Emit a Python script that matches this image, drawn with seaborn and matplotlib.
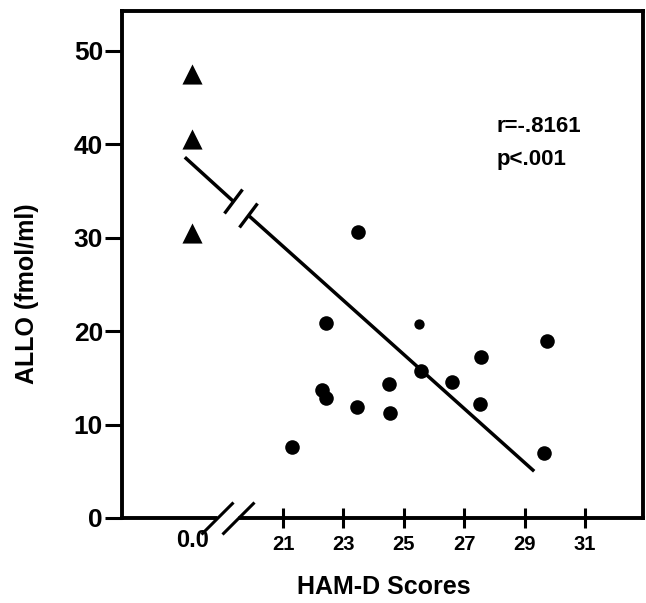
import matplotlib
matplotlib.use("Agg")
import matplotlib.pyplot as plt
from matplotlib.markers import MarkerStyle
from matplotlib.transforms import Affine2D, blended_transform_factory
import seaborn as sns

# HAM-D 0.0 (controls) is drawn at this spot left of the axis break
ZERO_POS = 18.0

ctrl_score = [0.0, 0.0, 0.0]
ctrl_allo = [47.5, 40.5, 30.5]

pat_score = [22.42, 29.75, 27.56, 25.56, 26.6, 24.5, 22.29, 22.42,
             23.44, 24.55, 27.53, 21.29, 29.65, 23.47]
pat_allo = [20.85, 18.95, 17.2, 15.7, 14.6, 14.3, 13.7, 12.8,
            11.9, 11.2, 12.2, 7.6, 7.0, 30.6]
small_score = [25.5]
small_allo = [20.8]

# regression line, with the gap where it crosses the axis break
fit_x = [17.75, 19.35, 19.85, 29.32]
fit_y = [38.6, 33.9, 32.4, 5.0]

axis_break = [18.81, 19.51]
xticks = [21, 23, 25, 27, 29, 31]
yticks = [0, 10, 20, 30, 40, 50]

sns.set_theme(style="ticks")
plt.rcParams["font.family"] = ["Liberation Sans", "DejaVu Sans"]
plt.rcParams["font.weight"] = "bold"

fig = plt.figure(figsize=(6.46, 6.03), dpi=100)
ax = fig.add_axes([0.1889, 0.141, 0.8072, 0.840])

ctrl_pos = [ZERO_POS + s for s in ctrl_score]
sns.scatterplot(x=ctrl_pos, y=ctrl_allo, marker="^", s=210, color="black",
                linewidth=0, ax=ax, zorder=5)
sns.scatterplot(x=pat_score, y=pat_allo, marker="o", s=110, color="black",
                linewidth=0, ax=ax, zorder=5)
sns.scatterplot(x=small_score, y=small_allo, marker="o", s=55, color="black",
                linewidth=0, ax=ax, zorder=5)

ax.plot(fit_x[:2], fit_y[:2], color="black", lw=2.5, solid_capstyle="butt")
ax.plot(fit_x[2:], fit_y[2:], color="black", lw=2.5, solid_capstyle="butt")
ax.plot(fit_x[1:3], fit_y[1:3], ls="none", color="black", ms=22, mew=2.4,
        marker=MarkerStyle("|", transform=Affine2D().rotate_deg(-36)))

ax.set_xlim(15.67, 32.94)
ax.set_ylim(0, 54.2)
ax.set_xticks(xticks)
ax.set_xticklabels([str(t) for t in xticks])
ax.set_yticks(yticks)
ax.set_yticklabels([str(t) for t in yticks])

for sp in ax.spines.values():
    sp.set_visible(True)
    sp.set_color("black")
    sp.set_linewidth(2.8)

ax.tick_params(axis="y", direction="out", length=12, width=2.2, pad=1.7,
               labelsize=19, color="black", labelcolor="black", left=True)
# x tick marks cross the axis; drawn below as markers, so length 0 here
ax.tick_params(axis="x", direction="out", length=0, pad=12.2,
               labelsize=14.5, labelcolor="black", bottom=True)
for lab in ax.get_xticklabels() + ax.get_yticklabels():
    lab.set_fontweight("bold")

ax.plot(xticks, [0] * len(xticks), ls="none", marker="|", ms=15, mew=2.2,
        color="black", clip_on=False, zorder=4)

# broken x axis: cut the spine and draw the two slashes
ax.plot(axis_break, [0, 0], color="white", lw=5, zorder=3, clip_on=False,
        solid_capstyle="butt")
ax.plot(axis_break, [0, 0], ls="none", color="black", ms=33, mew=2.2,
        clip_on=False, zorder=4,
        marker=MarkerStyle("|", transform=Affine2D().rotate_deg(-45)))

trans = blended_transform_factory(ax.transData, ax.transAxes)
ax.text(ZERO_POS, -0.0217, "0.0", transform=trans, ha="center", va="top",
        fontsize=17, fontweight="bold", color="black")

ax.set_xlabel("HAM-D Scores", fontsize=18, fontweight="bold", color="black")
ax.xaxis.label.set_va("center")
ax.xaxis.set_label_coords(0.502, -0.137)
ax.set_ylabel("ALLO (fmol/ml)", fontsize=18, fontweight="bold", color="black")
ax.yaxis.label.set_va("center")
ax.yaxis.set_label_coords(-0.183, 0.442)

ax.text(0.719, 0.762, "r=-.8161", transform=ax.transAxes, fontsize=16,
        fontweight="bold", va="baseline", color="black")
ax.text(0.719, 0.697, "p<.001", transform=ax.transAxes, fontsize=16,
        fontweight="bold", va="baseline", color="black")

fig.savefig("out.png", dpi=100)
